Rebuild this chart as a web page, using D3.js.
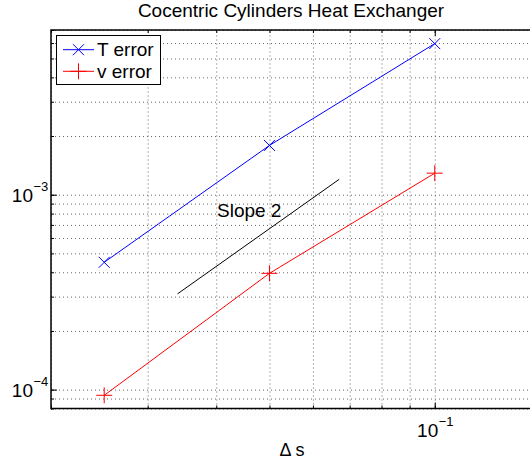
<!DOCTYPE html>
<html><head><meta charset="utf-8">
<script src="https://cdn.jsdelivr.net/npm/d3@7"></script>
<style>
body{margin:0;background:#fff;}
svg{display:block;font-family:"Liberation Sans",Arial,Helvetica,sans-serif;}
</style></head>
<body>
<svg id="chart" width="530" height="463"></svg>
<script>
// ---- data ----
const ds = [0.025, 0.05, 0.1];
const tError = [4.5e-4, 1.79e-3, 5.96e-3];
const vError = [9.35e-5, 3.95e-4, 1.29e-3];
const slopeX = [0.034, 0.067];
const slopeY = [3.1e-4, 1.2e-3];
const seriesNames = ["T error", "v error"];
const xMajor = [0.1];
const xMajorLabels = ["\u22121"];
const yMajor = [1e-4, 1e-3];
const yMajorLabels = ["\u22124", "\u22123"];
const title = "Cocentric Cylinders Heat Exchanger";
const xLabel = "\u0394 s";
const slopeLabel = "Slope 2";

const svg = d3.select("#chart");
const L = 51, R = 600, T = 30, B = 408.5;
const x = d3.scaleLog().domain([0.02, 0.2]).range([L, R]);
const y = d3.scaleLog().domain([8e-5, 7e-3]).range([B, T]);

// grid
const grid = svg.append("g");
grid.append("g").attr("transform", `translate(0,${B})`)
  .call(d3.axisBottom(x).tickValues(x.ticks()).tickSize(-(B - T)).tickFormat(""))
  .call(g => g.select(".domain").remove())
  .selectAll("line").attr("stroke", "#666").attr("stroke-dasharray", "1,3");
grid.append("g").attr("transform", `translate(${L},0)`)
  .call(d3.axisLeft(y).tickValues(y.ticks()).tickSize(-(R - L)).tickFormat(""))
  .call(g => g.select(".domain").remove())
  .selectAll("line").attr("stroke", "#666").attr("stroke-dasharray", "1,3");

// ticks (inside)
const tk = svg.append("g");
tk.append("g").attr("transform", `translate(${L},0)`)
  .call(d3.axisLeft(y).tickValues(y.ticks()).tickSize(-3).tickFormat(""))
  .call(g => g.select(".domain").remove());
tk.append("g").attr("transform", `translate(${L},0)`)
  .call(d3.axisLeft(y).tickValues(yMajor).tickSize(-6).tickFormat(""))
  .call(g => g.select(".domain").remove());
tk.append("g").attr("transform", `translate(0,${B})`)
  .call(d3.axisBottom(x).tickValues(x.ticks()).tickSize(-3).tickFormat(""))
  .call(g => g.select(".domain").remove());
tk.append("g").attr("transform", `translate(0,${B})`)
  .call(d3.axisBottom(x).tickValues(xMajor).tickSize(-6).tickFormat(""))
  .call(g => g.select(".domain").remove());
tk.append("g").attr("transform", `translate(0,${T})`)
  .call(d3.axisTop(x).tickValues(x.ticks()).tickSize(-3).tickFormat(""))
  .call(g => g.select(".domain").remove());
tk.append("g").attr("transform", `translate(0,${T})`)
  .call(d3.axisTop(x).tickValues(xMajor).tickSize(-6).tickFormat(""))
  .call(g => g.select(".domain").remove());
tk.selectAll("line").attr("stroke", "#000").attr("stroke-width", 1);

// axes box
svg.append("path")
  .attr("d", `M${R},${T}H${L}V${B}H${R}`)
  .attr("fill", "none").attr("stroke", "#000").attr("stroke-width", 1.5);

// tick labels
yMajor.forEach((v, i) => {
  svg.append("text").attr("x", 33).attr("y", y(v) + 7.4)
    .attr("text-anchor", "end").attr("font-size", 19).text("10");
  svg.append("text").attr("x", 33.5).attr("y", y(v) - 4)
    .attr("font-size", 13).text(yMajorLabels[i]);
});
xMajor.forEach((v, i) => {
  svg.append("text").attr("x", x(v) + 3.5).attr("y", B + 28)
    .attr("text-anchor", "end").attr("font-size", 19).text("10");
  svg.append("text").attr("x", x(v) + 4).attr("y", B + 17)
    .attr("font-size", 13).text(xMajorLabels[i]);
});

// title & xlabel
svg.append("text").attr("x", 291).attr("y", 17).attr("text-anchor", "middle")
  .attr("font-size", 19).text(title);
svg.append("text").attr("x", 292).attr("y", 456).attr("text-anchor", "middle")
  .attr("font-size", 18).text(xLabel);

// slope line
svg.append("line")
  .attr("x1", x(slopeX[0])).attr("y1", y(slopeY[0]))
  .attr("x2", x(slopeX[1])).attr("y2", y(slopeY[1]))
  .attr("stroke", "#000").attr("stroke-width", 1);
svg.append("text").attr("x", 217).attr("y", 217).attr("font-size", 19).text(slopeLabel);

// series
const line = d3.line().x(d => x(d[0])).y(d => y(d[1]));
const xMark = "M-5.5,-5.5L5.5,5.5M-5.5,5.5L5.5,-5.5";
const pMark = "M-8,0H8M0,-8V8";
const series = [
  {name: seriesNames[0], vals: tError, color: "#0000ff", mark: xMark},
  {name: seriesNames[1], vals: vError, color: "#ff0000", mark: pMark}
];
series.forEach(s => {
  const pts = ds.map((d, i) => [d, s.vals[i]]);
  svg.append("path").attr("d", line(pts)).attr("fill", "none")
    .attr("stroke", s.color).attr("stroke-width", 1);
  svg.selectAll(null).data(pts).enter().append("path")
    .attr("transform", d => `translate(${x(d[0])},${y(d[1])})`)
    .attr("d", s.mark).attr("fill", "none").attr("stroke", s.color).attr("stroke-width", 1);
});

// legend
const lg = svg.append("g");
lg.append("rect").attr("x", 56.5).attr("y", 35.5).attr("width", 104).attr("height", 49)
  .attr("fill", "#fff").attr("stroke", "#000").attr("stroke-width", 1);
series.forEach((s, i) => {
  const cy = 49.7 + i * 21.6;
  lg.append("line").attr("x1", 63).attr("x2", 94).attr("y1", cy).attr("y2", cy)
    .attr("stroke", s.color).attr("stroke-width", 1);
  lg.append("path").attr("transform", `translate(78.5,${cy})`).attr("d", s.mark)
    .attr("fill", "none").attr("stroke", s.color).attr("stroke-width", 1);
  lg.append("text").attr("x", 97).attr("y", cy + 6.2).attr("font-size", 19).text(s.name);
});
</script>
</body></html>
